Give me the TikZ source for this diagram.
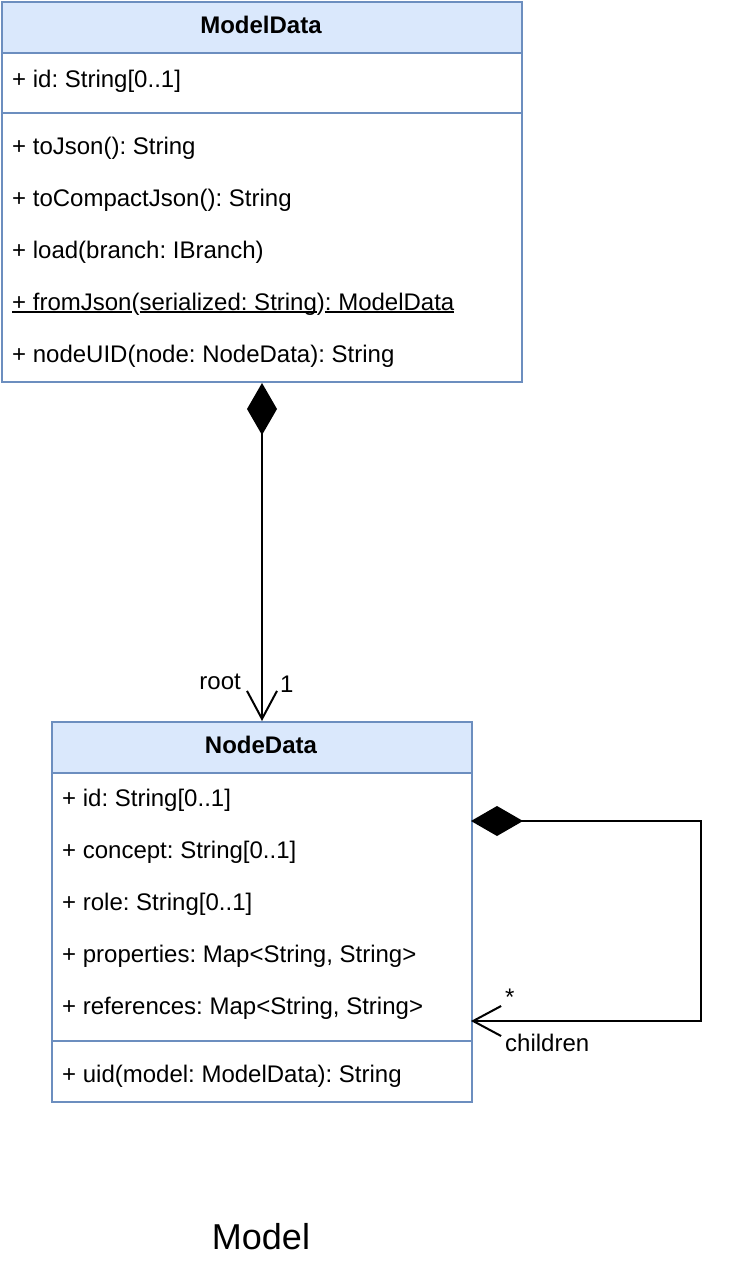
\documentclass[tikz,border=0pt]{standalone}
\usepackage{fontspec}
\setmainfont{Liberation Sans}
\usetikzlibrary{arrows.meta}
\definecolor{umlblue}{HTML}{6C8EBF}
\definecolor{umlfill}{HTML}{DAE8FC}
\newsavebox\ulbox
\newcommand\myul[1]{\sbox\ulbox{#1}\rlap{\rule[-3pt]{\wd\ulbox}{1.6pt}}\usebox\ulbox}
\frenchspacing
\tikzset{
  umlbox/.style={draw=umlblue, line width=2pt, anchor=north west, inner sep=0pt},
  sepline/.style={draw=umlblue, line width=2pt},
  txt/.style={anchor=base west, inner sep=0pt, font=\fontsize{24}{29}\selectfont},
  ttl/.style={anchor=base, inner sep=0pt, font=\fontsize{24}{29}\selectfont\bfseries},
  lbl/.style={inner sep=0pt, font=\fontsize{24}{29}\selectfont},
  conn/.style={draw=black, line width=2pt},
  comp/.style={conn, {Diamond[length=52pt,width=30pt,fill=black]}-{Straight Barb[length=28pt,width=30pt]}}
}
\begin{document}
\begin{tikzpicture}[x=1pt,y=-1pt]
\useasboundingbox (0,0) rectangle (754,1282);
% ModelData
\fill[umlfill] (1,1) rectangle (521,53);
\node[umlbox, minimum width=520pt, minimum height=380pt] (md) at (1,1) {};
\draw[sepline] (1,53) -- (521,53);
\draw[sepline] (1,113) -- (521,113);
\node[ttl] (mdt) at (261,33) {ModelData};
\node[txt] (mda1) at (12,87) {+ id: String[0..1]};
\node[txt] (mdm1) at (12,154) {+ toJson(): String};
\node[txt] (mdm2) at (12,206) {+ toCompactJson(): String};
\node[txt] (mdm3) at (12,258) {+ load(branch: IBranch)};
\node[txt] (mdm4) at (12,310) {\myul{+ fromJson}(\myul{serialized: String})\myul{: ModelData}};
\node[txt] (mdm5) at (12,362) {+ nodeUID(node: NodeData): String};
% NodeData
\fill[umlfill] (51,721) rectangle (471,773);
\node[umlbox, minimum width=420pt, minimum height=380pt] (nd) at (51,721) {};
\draw[sepline] (51,773) -- (471,773);
\draw[sepline] (51,1041) -- (471,1041);
\node[ttl] (ndt) at (261,753) {NodeData};
\node[txt] (nda1) at (62,806) {+ id: String[0..1]};
\node[txt] (nda2) at (62,858) {+ concept: String[0..1]};
\node[txt] (nda3) at (62,910) {+ role: String[0..1]};
\node[txt] (nda4) at (62,962) {+ properties: Map<String, String>};
\node[txt] (nda5) at (62,1014) {+ references: Map<String, String>};
\node[txt] (ndm1) at (62,1082) {+ uid(model: ModelData): String};
% connectors
\draw[comp] (md.south) -- (nd.north);
\node[lbl, anchor=base east] (lroot) at (241,689) {root};
\node[lbl, anchor=base west] (lone) at (280,692) {1};
\coordinate (sa) at (471,821);
\coordinate (sb) at (471,1021);
\coordinate (c1) at (701,821);
\coordinate (c2) at (701,1021);
\draw[comp] (sa) -- (c1) -- (c2) -- (sb);
\node[lbl, anchor=base west] (lstar) at (505,1005) {*};
\node[lbl, anchor=base west] (lchild) at (505,1051) {children};
% title
\node[inner sep=0pt, anchor=base, font=\fontsize{36}{43}\selectfont] (title) at (261,1249) {Model};
\end{tikzpicture}
\end{document}
